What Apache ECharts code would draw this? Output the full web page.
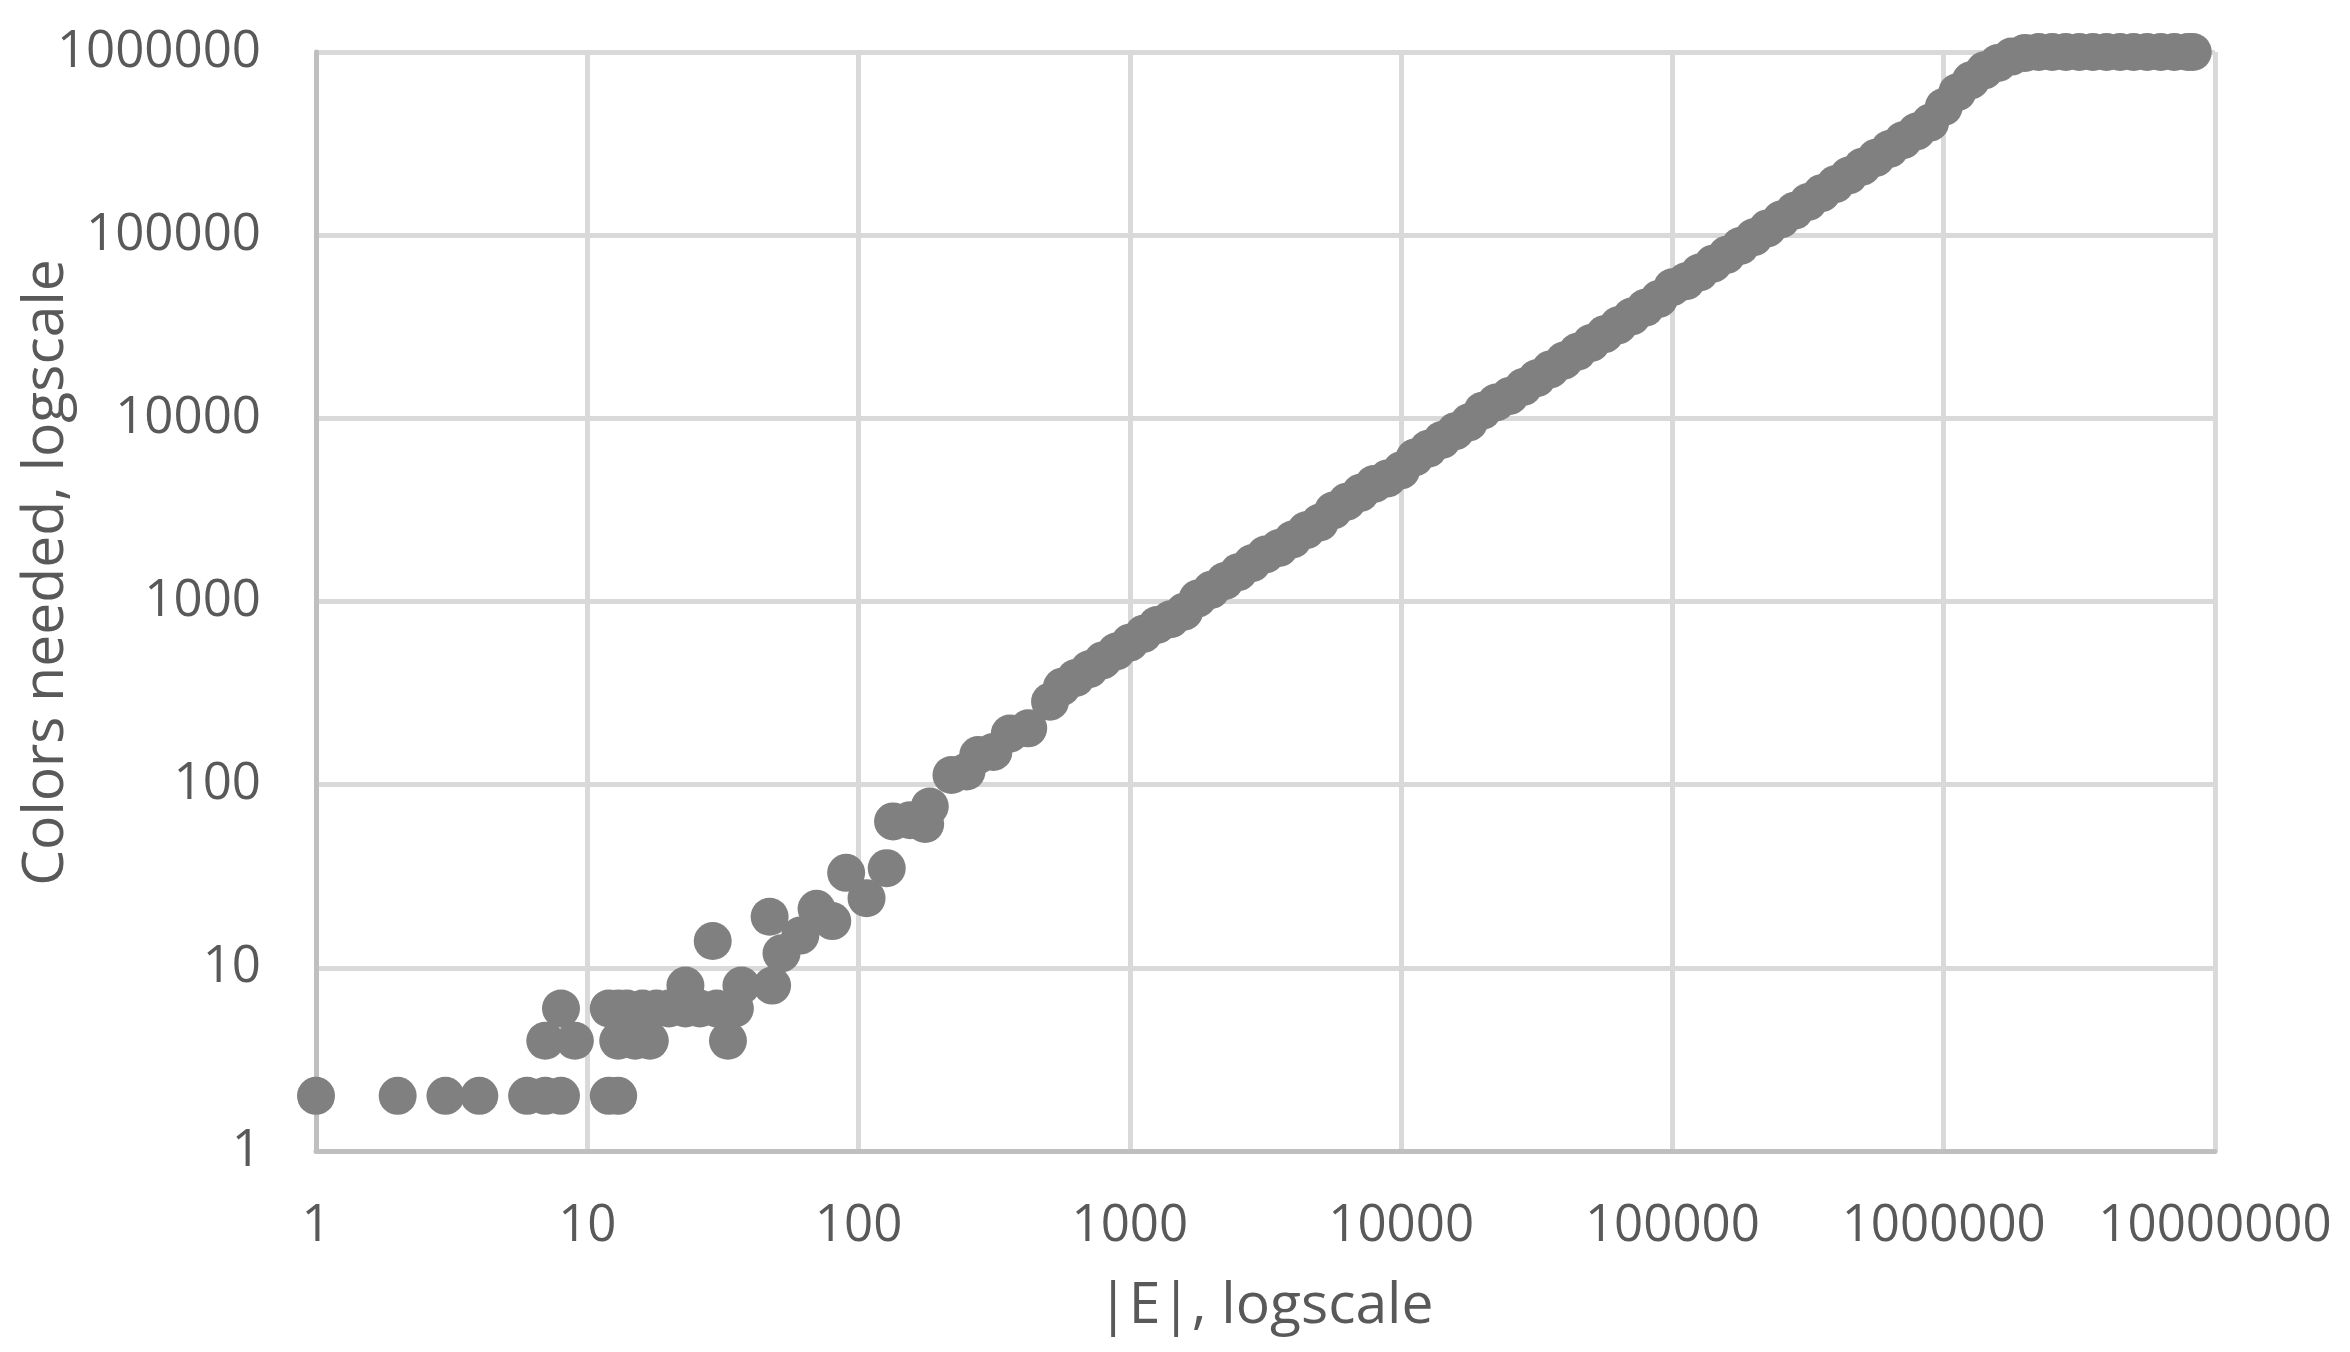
<!DOCTYPE html>
<html lang="en">
<head>
<meta charset="UTF-8">
<title>Colors needed vs |E|</title>
<script src="https://cdn.jsdelivr.net/npm/echarts@6/dist/echarts.min.js"></script>
<style>
    html, body { margin: 0; padding: 0; background: #fff; }
    #chart { width: 2350px; height: 1352px; }
</style>
</head>
<body>
<div id="chart"></div>
<script>
// small graphs: scattered values at the bottom left
var lowEdges  = [1, 2, 3, 4, 6, 7, 8, 12, 13,
                 7, 9, 13, 15, 17, 33,
                 8, 12, 13, 14, 16, 18, 20, 23, 26, 30, 35,
                 23, 37, 48, 29, 47,
                 52, 61, 70, 80, 90, 107, 127, 134, 155, 176, 183,
                 220, 250, 276, 314, 361, 422, 508];
var lowColors = [2, 2, 2, 2, 2, 2, 2, 2, 2,
                 4, 4, 4, 4, 4, 4,
                 6, 6, 6, 6, 6, 6, 6, 6, 6, 6, 6,
                 8, 8, 8, 14, 19,
                 12, 15, 21, 18, 33, 24, 35, 63, 64, 61, 76,
                 113, 118, 145, 151, 190, 203, 284];

// the long straight band
var lineEdges  = [562, 631, 708, 794, 891, 1000, 1122, 1259, 1413, 1585,
                  1778, 1995, 2239, 2512, 2818, 3162, 3548, 3981, 4467, 5012,
                  5623, 6310, 7079, 7943, 8913, 10000, 11220, 12590, 14130, 15850,
                  17780, 19950, 22390, 25120, 28180, 31620, 35480, 39810, 44670, 50120,
                  56230, 63100, 70790, 79430, 89130, 100000, 112200, 125900, 141300, 158500,
                  177800, 199500, 223900, 251200, 281800, 316200, 354800, 398100, 446700, 501200,
                  562300, 631000, 707900, 794300, 891300];
var lineColors = [342, 382, 427, 477, 533, 596, 666, 744, 800, 880,
                  1037, 1158, 1294, 1446, 1616, 1805, 1960, 2180, 2450, 2700,
                  3141, 3509, 3920, 4380, 4700, 5200, 6107, 6823, 7621, 8514,
                  9511, 11000, 12200, 13262, 14815, 16552, 18493, 20659, 23079, 25785,
                  28805, 32180, 35950, 40166, 44874, 52000, 56007, 62573, 69904, 78094,
                  87244, 97476, 108900, 121660, 135910, 151840, 169630, 189500, 211700, 236530,
                  264240, 295200, 329780, 368430, 411610];

// bend and the cap at 1000000
var topEdges  = [1000000, 1122000, 1259000, 1413000, 1585000, 1778000, 1995000,
                 2239000, 2512000, 2818000, 3162000, 3548000, 3981000, 4467000,
                 5012000, 5623000, 6310000, 7079000, 7943000, 8280000];
var topColors = [501000, 603000, 700000, 794000, 871000, 944000, 989000,
                 1000000, 1000000, 1000000, 1000000, 1000000, 1000000, 1000000,
                 1000000, 1000000, 1000000, 1000000, 1000000, 1000000];

var xName = '|E|, logscale';
var yName = 'Colors needed, logscale';

function pairs(xs, ys) {
    var out = [];
    for (var i = 0; i < xs.length; i++) out.push([xs[i], ys[i]]);
    return out;
}

var points = pairs(lowEdges, lowColors)
    .concat(pairs(lineEdges, lineColors))
    .concat(pairs(topEdges, topColors));

var textColor = '#595959';
var font = 'Open Sans';

var chart = echarts.init(document.getElementById('chart'));
chart.setOption({
    animation: false,
    backgroundColor: '#ffffff',
    grid: { left: 316, right: 135, top: 52, bottom: 201, containLabel: false, outerBoundsMode: 'none' },
    xAxis: {
        type: 'log',
        logBase: 10,
        min: 1,
        max: 10000000,
        name: xName,
        nameLocation: 'middle',
        nameMoveOverlap: false,
        nameGap: 127,
        nameTextStyle: { color: textColor, fontFamily: font, fontSize: 57 },
        axisLine: { lineStyle: { color: '#bfbfbf', width: 5 } },
        axisTick: { show: false },
        axisLabel: {
            color: textColor, fontFamily: font, fontSize: 51, margin: 50,
            formatter: function (v) { return String(Math.round(v)); }
        },
        splitLine: { show: true, lineStyle: { color: '#d9d9d9', width: 5 } },
        minorTick: { show: false }
    },
    yAxis: {
        type: 'log',
        logBase: 10,
        min: 1,
        max: 1000000,
        name: yName,
        nameLocation: 'middle',
        nameRotate: 90,
        nameMoveOverlap: false,
        nameGap: 241,
        nameTextStyle: { color: textColor, fontFamily: font, fontSize: 57, padding: [0, 0, 0, 58] },
        axisLine: { show: true, lineStyle: { color: '#bfbfbf', width: 5 } },
        axisTick: { show: false },
        axisLabel: {
            color: textColor, fontFamily: font, fontSize: 51, margin: 55,
            formatter: function (v) { return String(Math.round(v)); }
        },
        splitLine: { show: true, lineStyle: { color: '#d9d9d9', width: 5 } }
    },
    series: [{
        type: 'scatter',
        data: points,
        symbol: 'circle',
        symbolSize: 38,
        clip: false,
        itemStyle: { color: '#808080', opacity: 1 },
        emphasis: { disabled: true }
    }]
});
</script>
</body>
</html>
